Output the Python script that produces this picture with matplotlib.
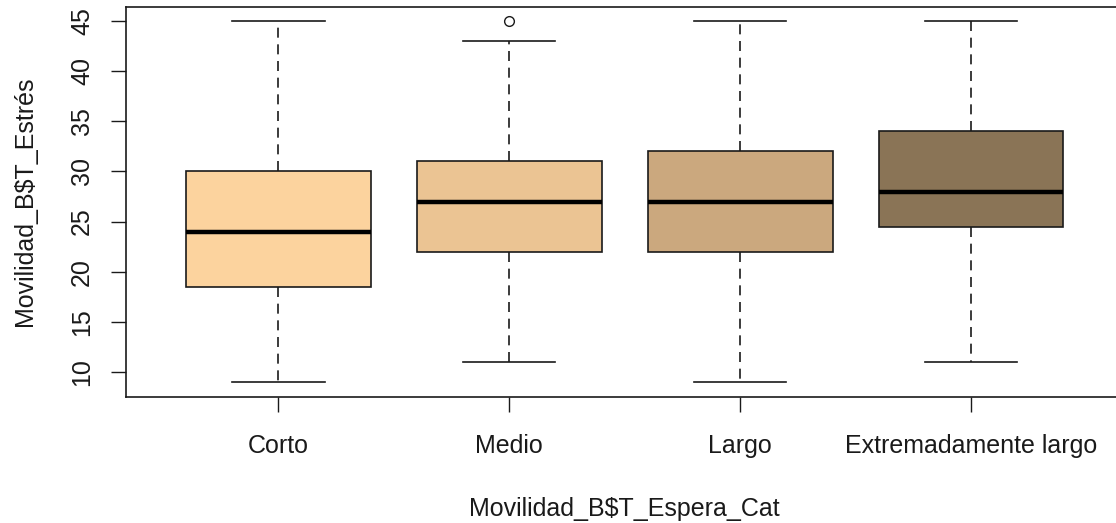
import matplotlib.pyplot as plt

plt.rcParams['font.family'] = ['Liberation Sans', 'DejaVu Sans']

# Box statistics for each waiting-time category
categorias = ['Corto', 'Medio', 'Largo', 'Extremadamente largo']
q1 = [18.5, 22, 22, 24.5]
medianas = [24, 27, 27, 28]
q3 = [30, 31, 32, 34]
bigote_inf = [9, 11, 9, 11]
bigote_sup = [45, 43, 45, 45]
atipicos = [[], [45], [], []]
colores = ['#FCD39E', '#EBC493', '#CBA87E', '#8A7456']

stats = []
for i, cat in enumerate(categorias):
    stats.append({
        'label': cat,
        'q1': q1[i], 'med': medianas[i], 'q3': q3[i],
        'whislo': bigote_inf[i], 'whishi': bigote_sup[i],
        'fliers': atipicos[i],
    })

fig = plt.figure(figsize=(11.16, 5.23), dpi=100)
ax = fig.add_axes([126 / 1116, (523 - 396.5) / 523,
                   (1123.5 - 126) / 1116, (396.5 - 6.6) / 523])

bp = ax.bxp(
    stats, positions=[1, 2, 3, 4], widths=0.8, patch_artist=True,
    capwidths=0.4,
    boxprops=dict(edgecolor='#1a1a1a', linewidth=1.2),
    medianprops=dict(color='black', linewidth=3.2, solid_capstyle='butt'),
    whiskerprops=dict(color='#1a1a1a', linewidth=1.2, linestyle=(0, (6, 4))),
    capprops=dict(color='#1a1a1a', linewidth=1.2),
    flierprops=dict(marker='o', markerfacecolor='none', markeredgecolor='#1a1a1a',
                    markersize=7, markeredgewidth=1.0),
)
for caja, c in zip(bp['boxes'], colores):
    caja.set_facecolor(c)

ax.set_xlim(0.34, 4.66)
ax.set_ylim(7.56, 46.44)
ax.set_yticks([10, 15, 20, 25, 30, 35, 40, 45])
for lado in ax.spines.values():
    lado.set_linewidth(1.2)
    lado.set_color('#1a1a1a')

ax.tick_params(axis='both', length=11, width=1.0, color='#1a1a1a',
               labelsize=18, labelcolor='#1a1a1a')
ax.tick_params(axis='x', pad=16)
ax.tick_params(axis='y', pad=12)
for t in ax.get_yticklabels():
    t.set_rotation(90)
    t.set_va('center')

ax.set_xlabel('Movilidad_B$T_Espera_Cat'.replace('$', r'\$'), fontsize=18,
              color='#1a1a1a', labelpad=28)
ax.set_ylabel('Movilidad_B$T_Estrés'.replace('$', r'\$'), fontsize=18,
              color='#1a1a1a', labelpad=24)

fig.savefig('out.png', dpi=100)
